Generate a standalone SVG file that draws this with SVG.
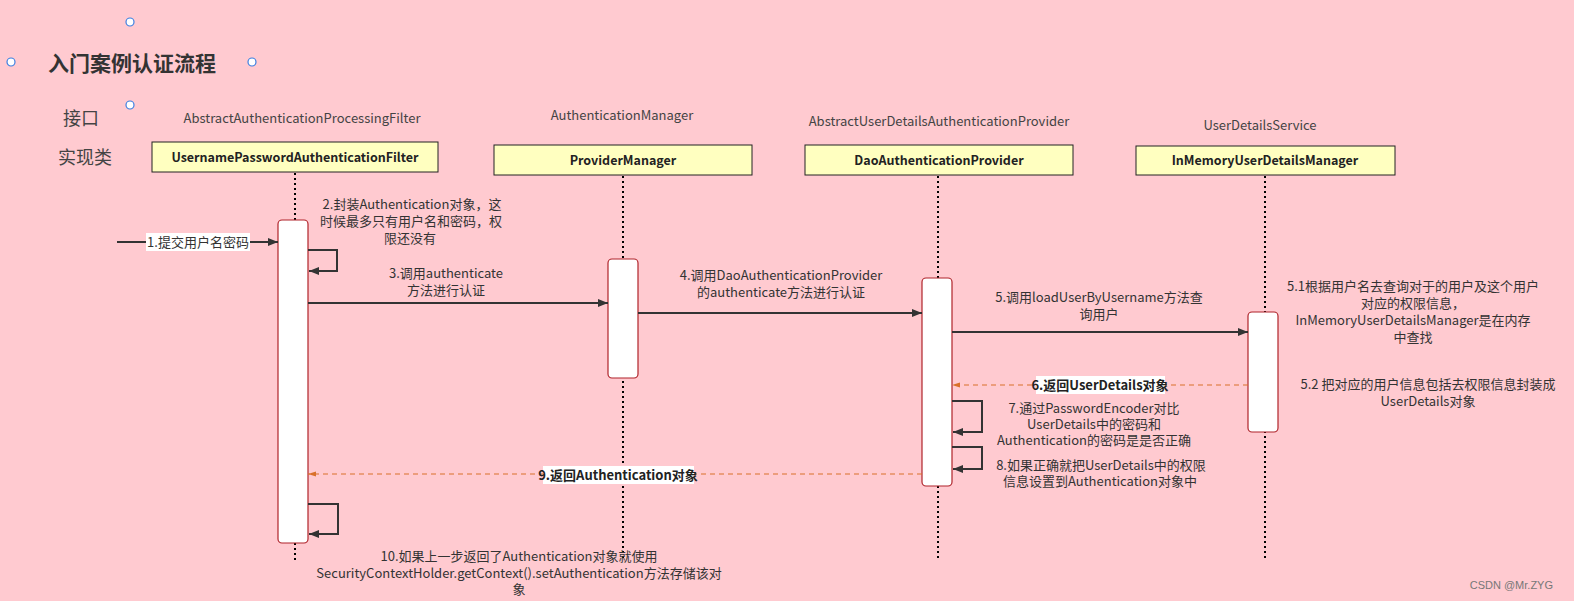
<svg xmlns="http://www.w3.org/2000/svg" width="1574" height="601" viewBox="0 0 1574 601">
<defs>
<marker id="ah" viewBox="0 0 10 10" refX="10" refY="5" markerWidth="11" markerHeight="10" markerUnits="userSpaceOnUse" orient="auto"><path d="M0,1 L10,5 L0,9 Z" fill="#333"/></marker>
<marker id="ao" viewBox="0 0 10 10" refX="10" refY="5" markerWidth="8" markerHeight="8" markerUnits="userSpaceOnUse" orient="auto"><path d="M0,2 L10,5 L0,8 Z" fill="#D9702A"/></marker>
</defs>
<style>
text{font-family:"Noto Sans CJK SC","Open Sans",sans-serif;fill:#333;}
.t{font-size:13px;text-anchor:middle;}
.h{font-size:13px;text-anchor:middle;fill:#444;}
.b{font-size:12.5px;font-weight:bold;text-anchor:middle;fill:#222;}
.box{fill:#FFFFC0;stroke:#222;stroke-width:1;}
.life{stroke:#000;stroke-width:2;stroke-dasharray:2 3;fill:none;}
.act{fill:#fff;stroke:#B0232A;stroke-width:1.2;}
.msg{stroke:#333;stroke-width:2;fill:none;}
.ret{stroke:#D9702A;stroke-width:1.2;stroke-dasharray:5 4;fill:none;}
.lbl{fill:#fff;}
.hd{fill:#fff;stroke:#3D7FE0;stroke-width:1.2;}
</style>
<rect x="0" y="0" width="1574" height="601" fill="#FFCAD0"/>

<g id="title">
<text x="48" y="71" style="font-size:21px;font-weight:bold;fill:#333;">入门案例认证流程</text>
<circle class="hd" cx="130" cy="22" r="4"/>
<circle class="hd" cx="11" cy="62" r="4"/>
<circle class="hd" cx="252" cy="62" r="4"/>
<circle class="hd" cx="130" cy="105" r="4"/>
</g>
<g id="legend">
<text x="81" y="125" style="font-size:18px;text-anchor:middle;fill:#444;">接口</text>
<text x="85" y="164" style="font-size:18px;text-anchor:middle;fill:#444;">实现类</text>
</g>

<g id="n1">
<text class="h" x="302" y="123">AbstractAuthenticationProcessingFilter</text>
<line class="life" x1="295" y1="173" x2="295" y2="562"/>
<rect class="box" x="152" y="142" width="286" height="30"/>
<text class="b" x="295" y="162">UsernamePasswordAuthenticationFilter</text>
<rect class="act" x="278" y="220" width="30" height="323" rx="4"/>
</g>
<g id="n2">
<text class="h" x="622" y="120">AuthenticationManager</text>
<line class="life" x1="623" y1="176" x2="623" y2="558"/>
<rect class="box" x="494" y="145" width="258" height="30"/>
<text class="b" x="623" y="165">ProviderManager</text>
<rect class="act" x="608" y="259" width="30" height="119" rx="4"/>
</g>
<g id="n3">
<text class="h" x="939" y="126">AbstractUserDetailsAuthenticationProvider</text>
<line class="life" x1="938" y1="176" x2="938" y2="560"/>
<rect class="box" x="805" y="145" width="268" height="30"/>
<text class="b" x="939" y="165">DaoAuthenticationProvider</text>
<rect class="act" x="922" y="278" width="30" height="208" rx="4"/>
</g>
<g id="n4">
<text class="h" x="1260" y="130">UserDetailsService</text>
<line class="life" x1="1265" y1="176" x2="1265" y2="558"/>
<rect class="box" x="1136" y="146" width="259" height="29"/>
<text class="b" x="1265" y="165">InMemoryUserDetailsManager</text>
<rect class="act" x="1248" y="312" width="30" height="120" rx="4"/>
</g>

<g id="connectors">
<line class="msg" x1="117" y1="242" x2="278" y2="242" marker-end="url(#ah)"/>
<rect class="lbl" x="146" y="233" width="104" height="18"/>
<text class="t" x="198" y="247">1.提交用户名密码</text>

<path class="msg" d="M308,250 H337 V271 H309" marker-end="url(#ah)"/>
<text class="t" x="412" y="209">2.封装Authentication对象，这</text>
<text class="t" x="411" y="226">时候最多只有用户名和密码，权</text>
<text class="t" x="410" y="243">限还没有</text>

<line class="msg" x1="308" y1="303" x2="608" y2="303" marker-end="url(#ah)"/>
<text class="t" x="446" y="278">3.调用authenticate</text>
<text class="t" x="446" y="295">方法进行认证</text>

<line class="msg" x1="638" y1="313" x2="922" y2="313" marker-end="url(#ah)"/>
<text class="t" x="781" y="280">4.调用DaoAuthenticationProvider</text>
<text class="t" x="781" y="297">的authenticate方法进行认证</text>

<line class="msg" x1="952" y1="332" x2="1248" y2="332" marker-end="url(#ah)"/>
<text class="t" x="1099" y="302">5.调用loadUserByUsername方法查</text>
<text class="t" x="1099" y="319">询用户</text>

<text class="t" x="1413" y="291">5.1根据用户名去查询对于的用户及这个用户</text>
<text class="t" x="1413" y="308">对应的权限信息，</text>
<text class="t" x="1413" y="325">InMemoryUserDetailsManager是在内存</text>
<text class="t" x="1413" y="342">中查找</text>

<line class="ret" x1="1248" y1="385" x2="952" y2="385" marker-end="url(#ao)"/>
<rect class="lbl" x="1036" y="376" width="129" height="18"/>
<text class="t" x="1100" y="390" style="font-weight:bold;fill:#222;">6.返回UserDetails对象</text>

<text class="t" x="1428" y="389">5.2 把对应的用户信息包括去权限信息封装成</text>
<text class="t" x="1428" y="406">UserDetails对象</text>

<path class="msg" d="M952,401 H982 V432 H953" marker-end="url(#ah)"/>
<text class="t" x="1094" y="413">7.通过PasswordEncoder对比</text>
<text class="t" x="1094" y="429">UserDetails中的密码和</text>
<text class="t" x="1094" y="445">Authentication的密码是是否正确</text>

<path class="msg" d="M952,447 H982 V469 H953" marker-end="url(#ah)"/>
<text class="t" x="1101" y="470">8.如果正确就把UserDetails中的权限</text>
<text class="t" x="1100" y="486">信息设置到Authentication对象中</text>

<line class="ret" x1="922" y1="474" x2="308" y2="474" marker-end="url(#ao)"/>
<rect class="lbl" x="543" y="466" width="151" height="18"/>
<text class="t" x="618" y="480" style="font-weight:bold;fill:#222;">9.返回Authentication对象</text>

<path class="msg" d="M308,504 H338 V534 H309" marker-end="url(#ah)"/>
<text class="t" x="519" y="561">10.如果上一步返回了Authentication对象就使用</text>
<text class="t" x="519" y="578">SecurityContextHolder.getContext().setAuthentication方法存储该对</text>
<text class="t" x="519" y="594">象</text>
</g>

<text x="1553" y="589" style="font-size:11px;text-anchor:end;fill:#777;font-family:'Liberation Sans',sans-serif;">CSDN @Mr.ZYG</text>
</svg>
